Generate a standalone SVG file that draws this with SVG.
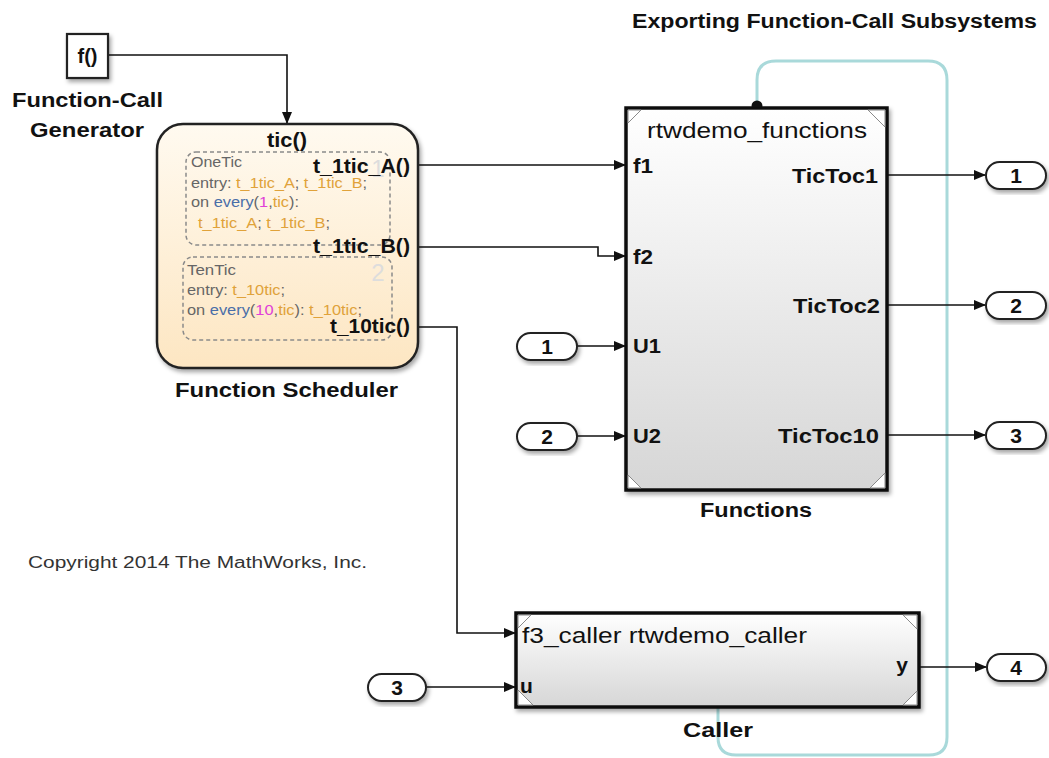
<svg xmlns="http://www.w3.org/2000/svg" width="1049" height="758" viewBox="0 0 1049 758">
<style>
  text { font-family: "Liberation Sans", Arial, sans-serif; fill: #111; }
  .b { font-weight: bold; }
  .lbl { font-weight: bold; font-size: 20px; }
  .pn { font-weight: bold; font-size: 21px; }
  .port { fill: #fff; stroke: #222; stroke-width: 2; }
  .wire { fill: none; stroke: #111; stroke-width: 1.6; }
  .st { font-size: 14px; fill: #666; }
  .ev { fill: #e0a23a; }
  .kw { fill: #4a6ea8; }
  .num { fill: #e040d8; }
  .corner { fill: #fff; stroke: #8a8a8a; stroke-width: 1; }
</style>
<defs>
  <filter id="sh" x="-10%" y="-10%" width="130%" height="130%">
    <feDropShadow dx="2" dy="3" stdDeviation="2" flood-color="#000" flood-opacity="0.35"/>
  </filter>
  <linearGradient id="gChart" x1="0" y1="0" x2="0" y2="1">
    <stop offset="0" stop-color="#fffaf0"/>
    <stop offset="1" stop-color="#fde6c2"/>
  </linearGradient>
  <linearGradient id="gSub" x1="0" y1="0" x2="0" y2="1">
    <stop offset="0" stop-color="#ffffff"/>
    <stop offset="1" stop-color="#d6d6d6"/>
  </linearGradient>
  <marker id="arr" markerWidth="12" markerHeight="10" refX="11" refY="5" orient="auto" markerUnits="userSpaceOnUse">
    <path d="M0,0 L12,5 L0,10 Z" fill="#111"/>
  </marker>
</defs>
<rect width="1049" height="758" fill="#fff"/>

<text class="b" x="632" y="28" font-size="20" textLength="405" lengthAdjust="spacingAndGlyphs">Exporting Function-Call Subsystems</text>
<text x="28" y="568" font-size="16" textLength="339" lengthAdjust="spacingAndGlyphs" style="fill:#333">Copyright 2014 The MathWorks, Inc.</text>

<!-- connectors -->
<g id="connectors">
  <path d="M757,106 V80 Q757,61 776,61 H928 Q947,61 947,80 V737 Q947,755 929,755 H736 Q718,755 718,737 V708" fill="none" stroke="#a9d9da" stroke-width="3"/>
  <circle cx="757" cy="106" r="5.5" fill="#111"/>
  <path class="wire" d="M108,55 H287 V123" marker-end="url(#arr)"/>
  <path class="wire" d="M418,165 H625" marker-end="url(#arr)"/>
  <path class="wire" d="M418,247 H598 V256 H625" marker-end="url(#arr)"/>
  <path class="wire" d="M418,327 H457 V633 H515" marker-end="url(#arr)"/>
  <path class="wire" d="M577,346 H625" marker-end="url(#arr)"/>
  <path class="wire" d="M577,436 H625" marker-end="url(#arr)"/>
  <path class="wire" d="M426,687 H515" marker-end="url(#arr)"/>
  <path class="wire" d="M887,175 H985" marker-end="url(#arr)"/>
  <path class="wire" d="M887,305 H985" marker-end="url(#arr)"/>
  <path class="wire" d="M887,435 H985" marker-end="url(#arr)"/>
  <path class="wire" d="M920,667 H986" marker-end="url(#arr)"/>
</g>

<!-- Function-Call Generator -->
<g id="fcgen">
  <rect x="67" y="34" width="41" height="44" fill="#fff" stroke="#222" stroke-width="2.2" filter="url(#sh)"/>
  <text class="b" x="87.5" y="63" font-size="20" text-anchor="middle">f()</text>
  <text class="b" x="12" y="107" font-size="20" textLength="151" lengthAdjust="spacingAndGlyphs">Function-Call</text>
  <text class="b" x="30" y="137" font-size="20" textLength="114" lengthAdjust="spacingAndGlyphs">Generator</text>
</g>

<!-- Function Scheduler chart -->
<g id="scheduler">
  <rect x="157" y="124" width="261" height="244" rx="26" fill="url(#gChart)" stroke="#222" stroke-width="2.5" filter="url(#sh)"/>
  <text class="b" x="267" y="147" font-size="20" textLength="40" lengthAdjust="spacingAndGlyphs">tic()</text>
  <rect x="186" y="152" width="204" height="93" rx="10" fill="none" stroke="#8a8a8a" stroke-width="1.5" stroke-dasharray="4,3"/>
  <rect x="183" y="257" width="209" height="83" rx="10" fill="none" stroke="#8a8a8a" stroke-width="1.5" stroke-dasharray="4,3"/>
  <text x="378" y="177" font-size="24" style="fill:#dddddd" text-anchor="middle">1</text>
  <text x="378" y="281" font-size="24" style="fill:#dddddd" text-anchor="middle">2</text>
  <text class="st" x="191" y="167" textLength="51" lengthAdjust="spacingAndGlyphs">OneTic</text>
  <text class="st" x="191" y="188" textLength="176" lengthAdjust="spacingAndGlyphs">entry: <tspan class="ev">t_1tic_A</tspan>; <tspan class="ev">t_1tic_B</tspan>;</text>
  <text class="st" x="191" y="207" textLength="108" lengthAdjust="spacingAndGlyphs">on <tspan class="kw">every</tspan>(<tspan class="num">1</tspan>,<tspan class="ev">tic</tspan>):</text>
  <text class="st" x="198" y="228" textLength="132" lengthAdjust="spacingAndGlyphs"><tspan class="ev">t_1tic_A</tspan>; <tspan class="ev">t_1tic_B</tspan>;</text>
  <text class="st" x="187" y="275" textLength="49" lengthAdjust="spacingAndGlyphs">TenTic</text>
  <text class="st" x="187" y="295" textLength="98" lengthAdjust="spacingAndGlyphs">entry: <tspan class="ev">t_10tic</tspan>;</text>
  <text class="st" x="187" y="315" textLength="175" lengthAdjust="spacingAndGlyphs">on <tspan class="kw">every</tspan>(<tspan class="num">10</tspan>,<tspan class="ev">tic</tspan>): <tspan class="ev">t_10tic</tspan>;</text>
  <text class="lbl" x="313" y="173" textLength="97" lengthAdjust="spacingAndGlyphs">t_1tic_A()</text>
  <text class="lbl" x="313" y="253" textLength="97" lengthAdjust="spacingAndGlyphs">t_1tic_B()</text>
  <text class="lbl" x="330" y="333" textLength="80" lengthAdjust="spacingAndGlyphs">t_10tic()</text>
  <text class="b" x="175" y="397" font-size="20" textLength="223" lengthAdjust="spacingAndGlyphs">Function Scheduler</text>
</g>

<!-- Functions subsystem -->
<g id="functions">
  <rect x="626" y="108" width="261" height="382" fill="url(#gSub)" stroke="#111" stroke-width="3.5" filter="url(#sh)"/>
  <path class="corner" d="M628,110 H641 L628,123 Z"/>
  <path class="corner" d="M885,110 H868 L885,127 Z"/>
  <path class="corner" d="M628,488 H641 L628,475 Z"/>
  <path class="corner" d="M885,488 H870 L885,473 Z"/>
  <text x="647" y="138" font-size="22" textLength="220" lengthAdjust="spacingAndGlyphs">rtwdemo_functions</text>
  <text class="lbl" x="633" y="173" textLength="20" lengthAdjust="spacingAndGlyphs">f1</text>
  <text class="lbl" x="633" y="264" textLength="20" lengthAdjust="spacingAndGlyphs">f2</text>
  <text class="lbl" x="633" y="353" textLength="28" lengthAdjust="spacingAndGlyphs">U1</text>
  <text class="lbl" x="633" y="443" textLength="28" lengthAdjust="spacingAndGlyphs">U2</text>
  <text class="lbl" x="792" y="183" textLength="86" lengthAdjust="spacingAndGlyphs">TicToc1</text>
  <text class="lbl" x="793" y="313" textLength="87" lengthAdjust="spacingAndGlyphs">TicToc2</text>
  <text class="lbl" x="778" y="443" textLength="101" lengthAdjust="spacingAndGlyphs">TicToc10</text>
  <text class="b" x="700" y="517" font-size="20" textLength="112" lengthAdjust="spacingAndGlyphs">Functions</text>
</g>

<!-- Caller subsystem -->
<g id="caller">
  <rect x="516" y="613" width="403" height="94" fill="url(#gSub)" stroke="#111" stroke-width="3.5" filter="url(#sh)"/>
  <path class="corner" d="M518,615 H531 L518,628 Z"/>
  <path class="corner" d="M917,615 H903 L917,629 Z"/>
  <path class="corner" d="M518,705 H533 L518,690 Z"/>
  <path class="corner" d="M917,705 H903 L917,691 Z"/>
  <text x="522" y="643" font-size="22" textLength="285" lengthAdjust="spacingAndGlyphs">f3_caller rtwdemo_caller</text>
  <text x="520" y="693" font-size="21" font-weight="bold">u</text>
  <text x="908" y="672" font-size="21" font-weight="bold" text-anchor="end">y</text>
  <text class="b" x="718" y="737" font-size="20" text-anchor="middle" textLength="70" lengthAdjust="spacingAndGlyphs">Caller</text>
</g>

<!-- Inports -->
<g id="in1"><rect class="port" x="517" y="333" width="60" height="27" rx="13.5" filter="url(#sh)"/><text class="pn" x="547" y="354" text-anchor="middle">1</text></g>
<g id="in2"><rect class="port" x="517" y="423" width="60" height="27" rx="13.5" filter="url(#sh)"/><text class="pn" x="547" y="444" text-anchor="middle">2</text></g>
<g id="in3"><rect class="port" x="368" y="674" width="58" height="27" rx="13.5" filter="url(#sh)"/><text class="pn" x="397" y="695" text-anchor="middle">3</text></g>

<!-- Outports -->
<g id="out1"><rect class="port" x="986" y="162" width="60" height="27" rx="13.5" filter="url(#sh)"/><text class="pn" x="1016" y="183" text-anchor="middle">1</text></g>
<g id="out2"><rect class="port" x="986" y="292" width="60" height="27" rx="13.5" filter="url(#sh)"/><text class="pn" x="1016" y="313" text-anchor="middle">2</text></g>
<g id="out3"><rect class="port" x="986" y="422" width="60" height="27" rx="13.5" filter="url(#sh)"/><text class="pn" x="1016" y="443" text-anchor="middle">3</text></g>
<g id="out4"><rect class="port" x="987" y="654" width="59" height="27" rx="13.5" filter="url(#sh)"/><text class="pn" x="1016" y="675" text-anchor="middle">4</text></g>
</svg>
